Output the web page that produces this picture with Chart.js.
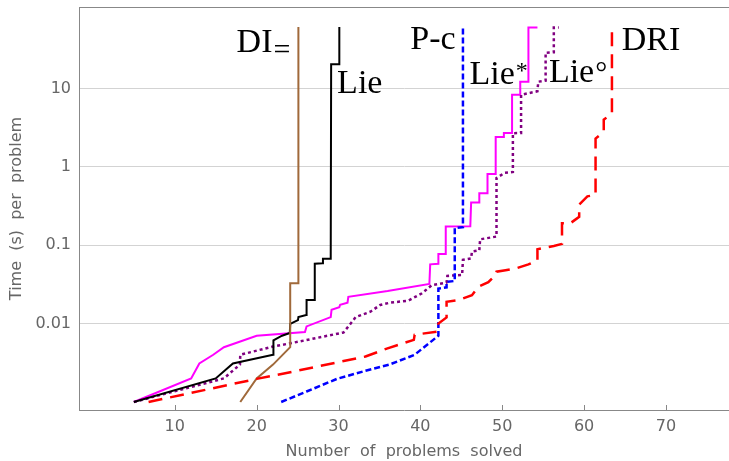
<!DOCTYPE html>
<html>
<head>
<meta charset="utf-8">
<script src="https://cdn.jsdelivr.net/npm/chart.js@4.4.0/dist/chart.umd.min.js"></script>
<style>
  body { margin: 0; background: #fff; }
  #chart { display: block; }
</style>
</head>
<body>
<canvas id="chart" width="729" height="461"></canvas>
<script>
'use strict'

const xTicks = [10, 20, 30, 40, 50, 60, 70];
const yTicks = [0.01, 0.1, 1, 10];
const yTickLabels = ['0.01', '0.1', '1', '10'];

// DRI (red, long dashes)
const driX = [6.8, 20, 24.1, 33.3, 35.9, 39.2, 39.3, 42.0, 42.2, 42.2, 43.2, 43.2, 44.7, 46.3, 47.1, 48.3, 49.2, 49.3, 50.4, 51.8, 53.2, 54.3, 54.3, 56.3, 57.3, 57.3, 58.3, 59.4, 59.4, 60.4, 61.4, 61.4, 62.4, 62.4, 63.4, 63.4];
const driY = [0.001, 0.00197, 0.0024, 0.0038, 0.0048, 0.0062, 0.0072, 0.0079, 0.0082, 0.010, 0.012, 0.019, 0.020, 0.023, 0.0296, 0.0338, 0.042, 0.046, 0.048, 0.051, 0.057, 0.064, 0.089, 0.098, 0.104, 0.19, 0.19, 0.23, 0.33, 0.42, 0.44, 2.3, 2.8, 4.0, 4.8, 61];

// P-c (blue, dashed)
const pcX = [23, 26.1, 29.8, 33.3, 36.2, 39.3, 42.2, 42.2, 43.2, 43.2, 44.2, 44.2, 45.2, 45.2];
const pcY = [0.001, 0.00136, 0.00197, 0.0025, 0.003, 0.004, 0.007, 0.028, 0.029, 0.034, 0.035, 0.165, 0.17, 61];

// DI= (brown)
const diEqX = [18, 20, 22, 24.1, 24.1, 25.1, 25.1];
const diEqY = [0.001, 0.002, 0.003, 0.005, 0.0327, 0.0327, 61];

// Lie (black)
const lieX = [5, 15, 17.1, 22, 22.05, 23.1, 24.05, 24.1, 25.05, 25.1, 26.05, 26.1, 27.05, 27.1, 28.05, 28.1, 29.05, 29.1, 30.1, 30.1];
const lieY = [0.001, 0.002, 0.0031, 0.004, 0.0061, 0.007, 0.0076, 0.0099, 0.0111, 0.0121, 0.0129, 0.02, 0.02, 0.058, 0.059, 0.067, 0.067, 20.4, 20.4, 61];

// Lie° (purple, dotted)
const lieCircX = [5, 16, 17.96, 18, 22, 24.1, 30.6, 31.2, 32.1, 33.9, 35.1, 36.3, 38.5, 40.2, 41.4, 43.2, 43.3, 45.1, 45.2, 46.2, 46.3, 47.2, 47.3, 49.3, 49.3, 50.3, 51.3, 51.3, 52.3, 52.3, 54.3, 54.4, 55.3, 55.3, 56.3, 56.3, 56.9];
const lieCircY = [0.001, 0.002, 0.003, 0.004, 0.0051, 0.0056, 0.0077, 0.0092, 0.0121, 0.0142, 0.0173, 0.0185, 0.0196, 0.0244, 0.031, 0.0334, 0.0406, 0.0418, 0.065, 0.068, 0.083, 0.086, 0.119, 0.129, 0.72, 0.84, 0.86, 2.69, 2.7, 8.3, 9.2, 12.2, 12.6, 28.6, 29, 60, 60];

// Lie* (magenta)
const lieStarX = [5, 12, 13, 14.7, 16, 20, 25.9, 26.1, 29.05, 29.15, 30.1, 30.2, 31.1, 31.2, 36, 41.1, 41.2, 42.2, 42.2, 43.1, 43.1, 46.1, 46.2, 47.2, 47.2, 48.2, 48.2, 49.2, 49.2, 50.2, 50.2, 51.2, 51.2, 52.2, 52.2, 53.2, 53.2, 54.3];
const lieStarY = [0.001, 0.002, 0.0031, 0.004, 0.005, 0.007, 0.0078, 0.0092, 0.0121, 0.015, 0.0162, 0.0174, 0.0185, 0.022, 0.026, 0.032, 0.057, 0.058, 0.077, 0.077, 0.173, 0.175, 0.35, 0.35, 0.46, 0.46, 0.81, 0.81, 2.4, 2.4, 2.7, 2.7, 8.3, 8.3, 12.2, 12.2, 60, 60];

// curve names, anchored in data space (left edge, baseline)
const curveLabels = [
    {text: 'DI', script: '=', scriptSize: 30, scriptDy: 7, x: 17.55, y: 29.4},
    {text: 'Lie', script: '', x: 29.83, y: 8.77},
    {text: 'P-c', script: '', x: 38.76, y: 31.6},
    {text: 'Lie', script: '*', scriptSize: 24, scriptDy: -6, x: 46.0, y: 11.4},
    {text: 'Lie', script: '\u00b0', scriptSize: 30, scriptDy: 0, x: 55.7, y: 12.2},
    {text: 'DRI', script: '', x: 64.6, y: 31.0}
];

function points(xs, ys){
    let pts = [];
    for(let i = 0; i < xs.length; i++){
        pts.push({x: xs[i], y: ys[i]});
    }
    return pts;
}

function series(label, xs, ys, color, width, dash){
    return {
        label: label,
        data: points(xs, ys),
        borderColor: color,
        borderWidth: width,
        borderDash: dash,
        borderCapStyle: 'butt',
        borderJoinStyle: 'miter',
        showLine: true,
        fill: false,
        tension: 0,
        pointRadius: 0
    };
}

const chartDecor = {
    id: 'chartDecor',
    afterDraw(chart){
        const ctx = chart.ctx;
        const area = chart.chartArea;
        const xScale = chart.scales.x;
        const yScale = chart.scales.y;
        ctx.save();
        // top frame line and inward tick marks on the x axis
        ctx.strokeStyle = '#888';
        ctx.lineWidth = 1;
        ctx.beginPath();
        ctx.moveTo(area.left, area.top + 0.5);
        ctx.lineTo(area.right, area.top + 0.5);
        for (const t of xScale.ticks){
            const px = Math.round(xScale.getPixelForValue(t.value)) + 0.5;
            ctx.moveTo(px, area.bottom);
            ctx.lineTo(px, area.bottom - 5);
        }
        ctx.stroke();
        // curve names
        ctx.fillStyle = '#000';
        ctx.textAlign = 'left';
        ctx.textBaseline = 'alphabetic';
        for (const lab of curveLabels){
            const px = xScale.getPixelForValue(lab.x);
            const py = yScale.getPixelForValue(lab.y);
            ctx.font = '34px "Liberation Serif"';
            ctx.fillText(lab.text, px, py);
            if (lab.script){
                const w = ctx.measureText(lab.text).width;
                ctx.font = lab.scriptSize + 'px "Liberation Serif"';
                ctx.fillText(lab.script, px + w + 1, py + lab.scriptDy);
            }
        }
        ctx.restore();
    }
};

const axisFont = {family: '"DejaVu Sans"', size: 16};
const titleFont = {family: '"DejaVu Sans"', size: 16};

new Chart(document.getElementById('chart'), {
    type: 'scatter',
    data: {
        datasets: [
            series('DRI', driX, driY, '#ff0000', 2.5, [14, 8]),
            series('P-c', pcX, pcY, '#0000ff', 2.5, [6, 3]),
            series('DI=', diEqX, diEqY, '#a0693a', 2, []),
            series('Lie', lieX, lieY, '#000000', 2, []),
            series('Lie°', lieCircX, lieCircY, '#800080', 2.5, [3, 3]),
            series('Lie*', lieStarX, lieStarY, '#ff00ff', 2, [])
        ]
    },
    options: {
        responsive: false,
        animation: false,
        layout: {padding: {top: 7, right: 0, bottom: 0, left: 0}},
        plugins: {
            legend: {display: false},
            tooltip: {enabled: false}
        },
        scales: {
            x: {
                type: 'linear',
                min: -1.7,
                max: 77.7,
                afterBuildTicks: (s) => { s.ticks = xTicks.map(v => ({value: v})); },
                afterFit: (s) => { s.height = 51; s.paddingLeft = 0; s.paddingRight = 0; },
                grid: {display: false, drawTicks: false},
                border: {display: true, color: '#888', width: 1},
                ticks: {color: '#666', font: axisFont, padding: 7, maxRotation: 0},
                title: {
                    display: true,
                    text: 'Number  of  problems  solved',
                    color: '#666',
                    font: titleFont,
                    padding: {top: 0, bottom: 0}
                }
            },
            y: {
                type: 'logarithmic',
                min: 0.00079,
                max: 109.5,
                afterBuildTicks: (s) => { s.ticks = yTicks.map(v => ({value: v})); },
                afterFit: (s) => { s.width = 79; s.paddingTop = 0; s.paddingBottom = 0; },
                grid: {color: '#d3d3d3', lineWidth: 1, drawTicks: false},
                border: {display: true, color: '#888', width: 1},
                ticks: {
                    color: '#666',
                    font: axisFont,
                    padding: 8,
                    callback: (value, index) => yTickLabels[index]
                },
                title: {
                    display: true,
                    text: 'Time  (s)  per  problem',
                    color: '#666',
                    font: titleFont,
                    padding: {top: 7, bottom: 4}
                }
            }
        }
    },
    plugins: [chartDecor]
});
</script>
</body>
</html>
